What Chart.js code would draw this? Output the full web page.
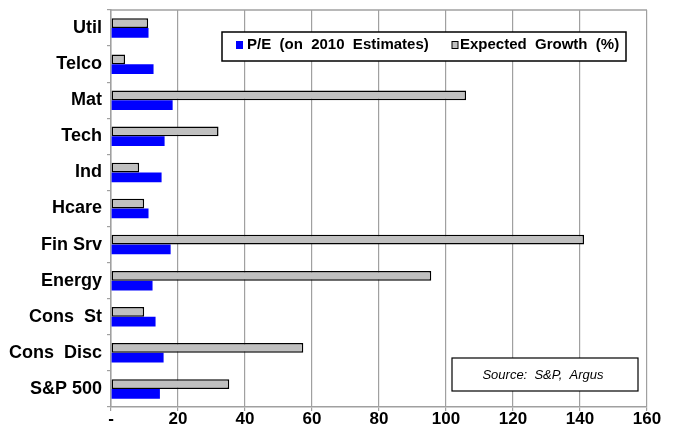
<!DOCTYPE html>
<html>
<head>
<meta charset="utf-8">
<script src="https://cdn.jsdelivr.net/npm/chart.js@4/dist/chart.umd.min.js"></script>
<style>
  html, body { margin: 0; padding: 0; background: #ffffff; }
  #wrap { width: 676px; height: 433px; position: relative; }
</style>
</head>
<body>
<div id="wrap"><canvas id="c"></canvas></div>
<script>
// Sectors, top to bottom
const sectors = ['Util', 'Telco', 'Mat', 'Tech', 'Ind', 'Hcare', 'Fin Srv', 'Energy', 'Cons  St', 'Cons  Disc', 'S&P 500'];
// Expected earnings growth (%)
const expectedGrowth = [11.1, 4.2, 106, 32.1, 8.4, 9.9, 141.2, 95.6, 9.9, 57.4, 35.3];
// P/E on 2010 estimates
const peRatio = [11.2, 12.7, 18.4, 16.0, 15.1, 11.2, 17.8, 12.4, 13.3, 15.7, 14.6];
// Value axis ticks
const xTicks = [0, 20, 40, 60, 80, 100, 120, 140, 160];

const seriesNames = ['P/E  (on  2010  Estimates)', 'Expected  Growth  (%)'];
const sourceNote = 'Source:  S&P,  Argus';

const FONT = '"Liberation Sans", Arial, sans-serif';
const AXIS_GREY = '#a0a0a0';

// Legend box, source note and the plot frame
const overlay = {
  id: 'overlay',
  beforeDatasetsDraw(chart) {
    const { ctx, chartArea: a } = chart;
    ctx.save();
    ctx.strokeStyle = AXIS_GREY;
    ctx.lineWidth = 1.5;
    ctx.beginPath();
    ctx.moveTo(a.left, a.top);
    ctx.lineTo(a.right, a.top);
    ctx.stroke();
    ctx.restore();
  },
  afterDraw(chart) {
    const { ctx } = chart;
    ctx.save();
    // legend
    ctx.fillStyle = '#ffffff';
    ctx.fillRect(222, 32, 404, 29);
    ctx.strokeStyle = '#000000';
    ctx.lineWidth = 1.5;
    ctx.strokeRect(222, 32, 404, 29);
    ctx.font = 'bold 15px ' + FONT;
    ctx.textBaseline = 'middle';
    ctx.textAlign = 'left';
    ctx.fillStyle = '#0000ff';
    ctx.fillRect(236, 41, 7, 8);
    ctx.fillStyle = '#000000';
    ctx.fillText(seriesNames[0], 247, 45);
    ctx.fillStyle = '#c0c0c0';
    ctx.fillRect(452, 41.5, 6, 7);
    ctx.strokeStyle = '#000000';
    ctx.lineWidth = 1;
    ctx.strokeRect(452, 41.5, 6, 7);
    ctx.fillStyle = '#000000';
    ctx.fillText(seriesNames[1], 460, 45);
    // source note
    ctx.fillStyle = '#ffffff';
    ctx.fillRect(452, 358, 186, 33);
    ctx.strokeStyle = '#000000';
    ctx.lineWidth = 1.2;
    ctx.strokeRect(452, 358, 186, 33);
    ctx.fillStyle = '#000000';
    ctx.font = 'italic 13px ' + FONT;
    ctx.textAlign = 'center';
    ctx.fillText(sourceNote, 543, 375);
    ctx.restore();
  }
};

new Chart(document.getElementById('c'), {
  type: 'bar',
  data: {
    labels: sectors,
    datasets: [
      {
        label: seriesNames[1],
        data: expectedGrowth,
        backgroundColor: '#c0c0c0',
        borderColor: '#000000',
        borderWidth: 1.5,
        borderSkipped: false,
        barPercentage: 1.0,
        categoryPercentage: 0.54
      },
      {
        label: seriesNames[0],
        data: peRatio,
        backgroundColor: '#0000ff',
        borderWidth: 0,
        barPercentage: 1.0,
        categoryPercentage: 0.54
      }
    ]
  },
  options: {
    indexAxis: 'y',
    responsive: true,
    maintainAspectRatio: false,
    animation: false,
    layout: { padding: { left: 0, right: 29, top: 10, bottom: 0 } },
    plugins: {
      legend: { display: false },
      tooltip: { enabled: false }
    },
    scales: {
      x: {
        min: 0,
        max: 160,
        afterBuildTicks(scale) { scale.ticks = xTicks.map(v => ({ value: v })); },
        afterFit(scale) { scale.height = 26; },
        grid: { color: AXIS_GREY, lineWidth: 1.2, tickLength: 4, drawTicks: true },
        border: { color: AXIS_GREY, width: 1.5 },
        ticks: {
          padding: -2,
          color: '#000000',
          font: { family: FONT, size: 17, weight: 'bold' },
          callback: v => (v === 0 ? '-' : String(v))
        }
      },
      y: {
        afterFit(scale) {
          scale.width = 111;
          scale.paddingTop = 0;
          scale.paddingBottom = 0;
        },
        grid: { drawOnChartArea: false, color: AXIS_GREY, lineWidth: 1.2, tickLength: 4, offset: true },
        border: { color: AXIS_GREY, width: 1.5 },
        ticks: {
          padding: 5,
          color: '#000000',
          font: { family: FONT, size: 18, weight: 'bold' }
        }
      }
    }
  },
  plugins: [overlay]
});
</script>
</body>
</html>
